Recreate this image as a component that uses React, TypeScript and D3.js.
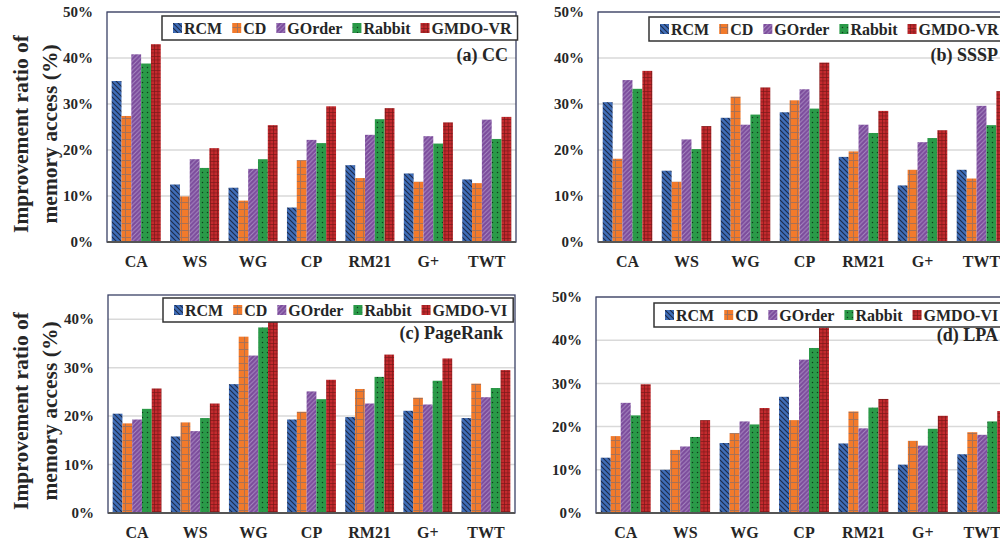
import React from 'react';
import * as d3 from 'd3';

const categories = ['CA', 'WS', 'WG', 'CP', 'RM21', 'G+', 'TWT'];
const seriesKeys = ['RCM', 'CD', 'GOrder', 'Rabbit', 'GMDO'];

// (a) CC
const ccRCM = [35.0, 12.5, 11.8, 7.5, 16.7, 14.9, 13.6];
const ccCD = [27.4, 9.9, 9.0, 17.8, 13.9, 13.1, 12.8];
const ccGOrder = [40.8, 18.0, 15.9, 22.2, 23.3, 23.0, 26.6];
const ccRabbit = [38.8, 16.1, 18.0, 21.5, 26.7, 21.4, 22.4];
const ccGMDO = [43.0, 20.4, 25.4, 29.5, 29.1, 26.0, 27.2];

// (b) SSSP
const ssspRCM = [30.4, 15.5, 27.0, 28.2, 18.5, 12.3, 15.7];
const ssspCD = [18.1, 13.1, 31.6, 30.8, 19.7, 15.7, 13.8];
const ssspGOrder = [35.2, 22.3, 25.5, 33.2, 25.5, 21.7, 29.6];
const ssspRabbit = [33.3, 20.2, 27.7, 29.0, 23.7, 22.6, 25.4];
const ssspGMDO = [37.2, 25.2, 33.6, 39.0, 28.5, 24.3, 32.8];

// (c) PageRank
const prRCM = [20.5, 15.8, 26.6, 19.3, 19.8, 21.1, 19.6];
const prCD = [18.5, 18.7, 36.4, 20.9, 25.6, 23.8, 26.7];
const prGOrder = [19.3, 16.9, 32.5, 25.1, 22.6, 22.4, 23.9];
const prRabbit = [21.5, 19.6, 38.3, 23.5, 28.1, 27.3, 25.8];
const prGMDO = [25.7, 22.6, 41.0, 27.5, 32.7, 31.9, 29.5];

// (d) LPA
const lpaRCM = [12.8, 10.0, 16.2, 26.9, 16.1, 11.2, 13.6];
const lpaCD = [17.8, 14.6, 18.5, 21.5, 23.5, 16.7, 18.7];
const lpaGOrder = [25.5, 15.4, 21.2, 35.5, 19.6, 15.6, 18.1];
const lpaRabbit = [22.6, 17.6, 20.5, 38.2, 24.4, 19.5, 21.2];
const lpaGMDO = [29.8, 21.5, 24.3, 42.9, 26.4, 22.5, 23.6];

const ticks50 = [0, 10, 20, 30, 40, 50];
const ticks40 = [0, 10, 20, 30, 40];

const FONT = '"Liberation Serif", "Times New Roman", serif';
const ink = '#262626';

const fills = ['url(#pRCM)', 'url(#pCD)', 'url(#pGOrder)', 'url(#pRabbit)', 'url(#pGMDO)'];

let ctx: CanvasRenderingContext2D | null = null;
const textWidth = (s: string, size: number) => {
  if (!ctx) ctx = document.createElement('canvas').getContext('2d');
  if (!ctx) return s.length * size * 0.55;
  ctx.font = `bold ${size}px ${FONT}`;
  return ctx.measureText(s).width;
};

const Patterns = () => (
  <defs>
    <pattern id='pRCM' patternUnits='userSpaceOnUse' width='5' height='5'>
      <rect width='5' height='5' fill='#3f6db8' />
      <path d='M0,0 L5,5 M-1,4 L1,6 M4,-1 L6,1' stroke='#1c2a48' strokeWidth='1.1' />
    </pattern>
    <pattern id='pCD' patternUnits='userSpaceOnUse' width='7' height='7'>
      <rect width='7' height='7' fill='#f27a2b' />
      <path d='M6.5,0 V7 M0,6.5 H7' stroke='#a0705a' strokeWidth='0.9' />
    </pattern>
    <pattern id='pGOrder' patternUnits='userSpaceOnUse' width='4.5' height='4.5'>
      <rect width='4.5' height='4.5' fill='#7b4b9b' />
      <path d='M0,4.5 L4.5,0 M-1,1 L1,-1 M3.5,5.5 L5.5,3.5' stroke='#a88ac2' strokeWidth='1' />
    </pattern>
    <pattern id='pRabbit' patternUnits='userSpaceOnUse' width='5' height='5'>
      <rect width='5' height='5' fill='#2a9a48' />
      <circle cx='2.5' cy='2.5' r='0.75' fill='#0f3d1e' />
    </pattern>
    <pattern id='pGMDO' patternUnits='userSpaceOnUse' width='3.5' height='3.5'>
      <rect width='3.5' height='3.5' fill='#c42a2e' />
      <path d='M0.3,0 V3.5 M0,0.3 H3.5' stroke='#7a1818' strokeWidth='0.8' />
    </pattern>
  </defs>
);

type PanelProps = {
  series: number[][];
  left: number;
  right: number;
  top: number;
  bottom: number;
  yMax: number;
  ticks: number[];
  lastName: string;
  title: string;
  titleRight: number;
  titleY: number;
  legendLeft: number;
  legendTop: number;
  yLabel?: boolean;
};

const Panel = (p: PanelProps) => {
  const x0 = d3
    .scaleBand()
    .domain(categories)
    .range([p.left, p.right])
    .paddingInner(0.16)
    .paddingOuter(0.08);
  const x1 = d3.scaleBand().domain(seriesKeys).range([0, x0.bandwidth()]).padding(0);
  const y = d3.scaleLinear().domain([0, p.yMax]).range([p.bottom, p.top]);

  const names = ['RCM', 'CD', 'GOrder', 'Rabbit', p.lastName];
  const legendItems: { name: string; x: number }[] = [];
  let lx = p.legendLeft + 11;
  names.forEach(n => {
    legendItems.push({ name: n, x: lx });
    lx += 11 + textWidth(n, 16) + 10;
  });
  const legendRight = lx - 10 + 6;

  const midY = (p.top + p.bottom) / 2 + 7;

  return (
    <g>
      {p.ticks
        .filter(t => t > 0)
        .map(t => (
          <line
            key={`g${t}`}
            x1={p.left}
            x2={p.right}
            y1={y(t)}
            y2={y(t)}
            stroke='#d9d9d9'
            strokeWidth='1.5'
          />
        ))}
      {p.series.map((vals, si) =>
        vals.map((v, ci) => (
          <rect
            key={`b${si}-${ci}`}
            x={(x0(categories[ci]) as number) + (x1(seriesKeys[si]) as number)}
            y={y(v)}
            width={x1.bandwidth()}
            height={p.bottom - y(v)}
            fill={fills[si]}
          />
        ))
      )}
      <rect
        x={p.left}
        y={p.top}
        width={p.right - p.left}
        height={p.bottom - p.top}
        fill='none'
        stroke='#3a4166'
        strokeWidth='1.3'
      />
      <line x1={p.left} x2={p.right} y1={p.bottom} y2={p.bottom} stroke='#555' strokeWidth='2' />
      {p.ticks.map(t => (
        <text
          key={`t${t}`}
          x={p.left - 14}
          y={y(t)}
          dy='0.35em'
          textAnchor='end'
          fontFamily={FONT}
          fontWeight='bold'
          fontSize='15'
          fill={ink}
        >
          {`${t}%`}
        </text>
      ))}
      {categories.map(c => (
        <text
          key={`c${c}`}
          x={(x0(c) as number) + x0.bandwidth() / 2}
          y={p.bottom + 25}
          textAnchor='middle'
          fontFamily={FONT}
          fontWeight='bold'
          fontSize='16'
          fill={ink}
        >
          {c}
        </text>
      ))}
      <rect
        x={p.legendLeft}
        y={p.legendTop}
        width={legendRight - p.legendLeft}
        height={24}
        fill='#fff'
        stroke='#333'
        strokeWidth='1.5'
      />
      {legendItems.map((it, i) => (
        <g key={`l${i}`}>
          <rect x={it.x} y={p.legendTop + 7} width={9} height={10} fill={fills[i]} />
          <text
            x={it.x + 11}
            y={p.legendTop + 18}
            fontFamily={FONT}
            fontWeight='bold'
            fontSize='16'
            fill={ink}
          >
            {it.name}
          </text>
        </g>
      ))}
      <text
        x={p.titleRight}
        y={p.titleY}
        textAnchor='end'
        fontFamily={FONT}
        fontWeight='bold'
        fontSize='18'
        fill={ink}
      >
        {p.title}
      </text>
      {p.yLabel && (
        <g fontFamily={FONT} fontWeight='bold' fontSize='21.5' fill={ink} textAnchor='middle'>
          <text transform={`translate(28, ${midY}) rotate(-90)`}>Improvement ratio of</text>
          <text transform={`translate(57, ${midY}) rotate(-90)`}>memory access (%)</text>
        </g>
      )}
    </g>
  );
};

const App = () => (
  <svg
    width={1000}
    height={541}
    viewBox='0 0 1000 541'
    style={{ position: 'absolute', left: 0, top: 0, background: '#fff' }}
  >
    <Patterns />
    <Panel
      series={[ccRCM, ccCD, ccGOrder, ccRabbit, ccGMDO]}
      left={107}
      right={516}
      top={12}
      bottom={242}
      yMax={50}
      ticks={ticks50}
      lastName='GMDO-VR'
      title='(a) CC'
      titleRight={508}
      titleY={61}
      legendLeft={162}
      legendTop={16}
      yLabel
    />
    <Panel
      series={[ssspRCM, ssspCD, ssspGOrder, ssspRabbit, ssspGMDO]}
      left={598}
      right={1011}
      top={12}
      bottom={242}
      yMax={50}
      ticks={ticks50}
      lastName='GMDO-VR'
      title='(b) SSSP'
      titleRight={998}
      titleY={61}
      legendLeft={649}
      legendTop={17}
    />
    <Panel
      series={[prRCM, prCD, prGOrder, prRabbit, prGMDO]}
      left={108}
      right={515}
      top={295}
      bottom={513}
      yMax={45}
      ticks={ticks40}
      lastName='GMDO-VI'
      title='(c) PageRank'
      titleRight={503}
      titleY={339}
      legendLeft={163}
      legendTop={298}
      yLabel
    />
    <Panel
      series={[lpaRCM, lpaCD, lpaGOrder, lpaRabbit, lpaGMDO]}
      left={596}
      right={1012}
      top={297}
      bottom={513}
      yMax={50}
      ticks={ticks50}
      lastName='GMDO-VI'
      title='(d) LPA'
      titleRight={998}
      titleY={341}
      legendLeft={654}
      legendTop={303}
    />
  </svg>
);

export default App;
